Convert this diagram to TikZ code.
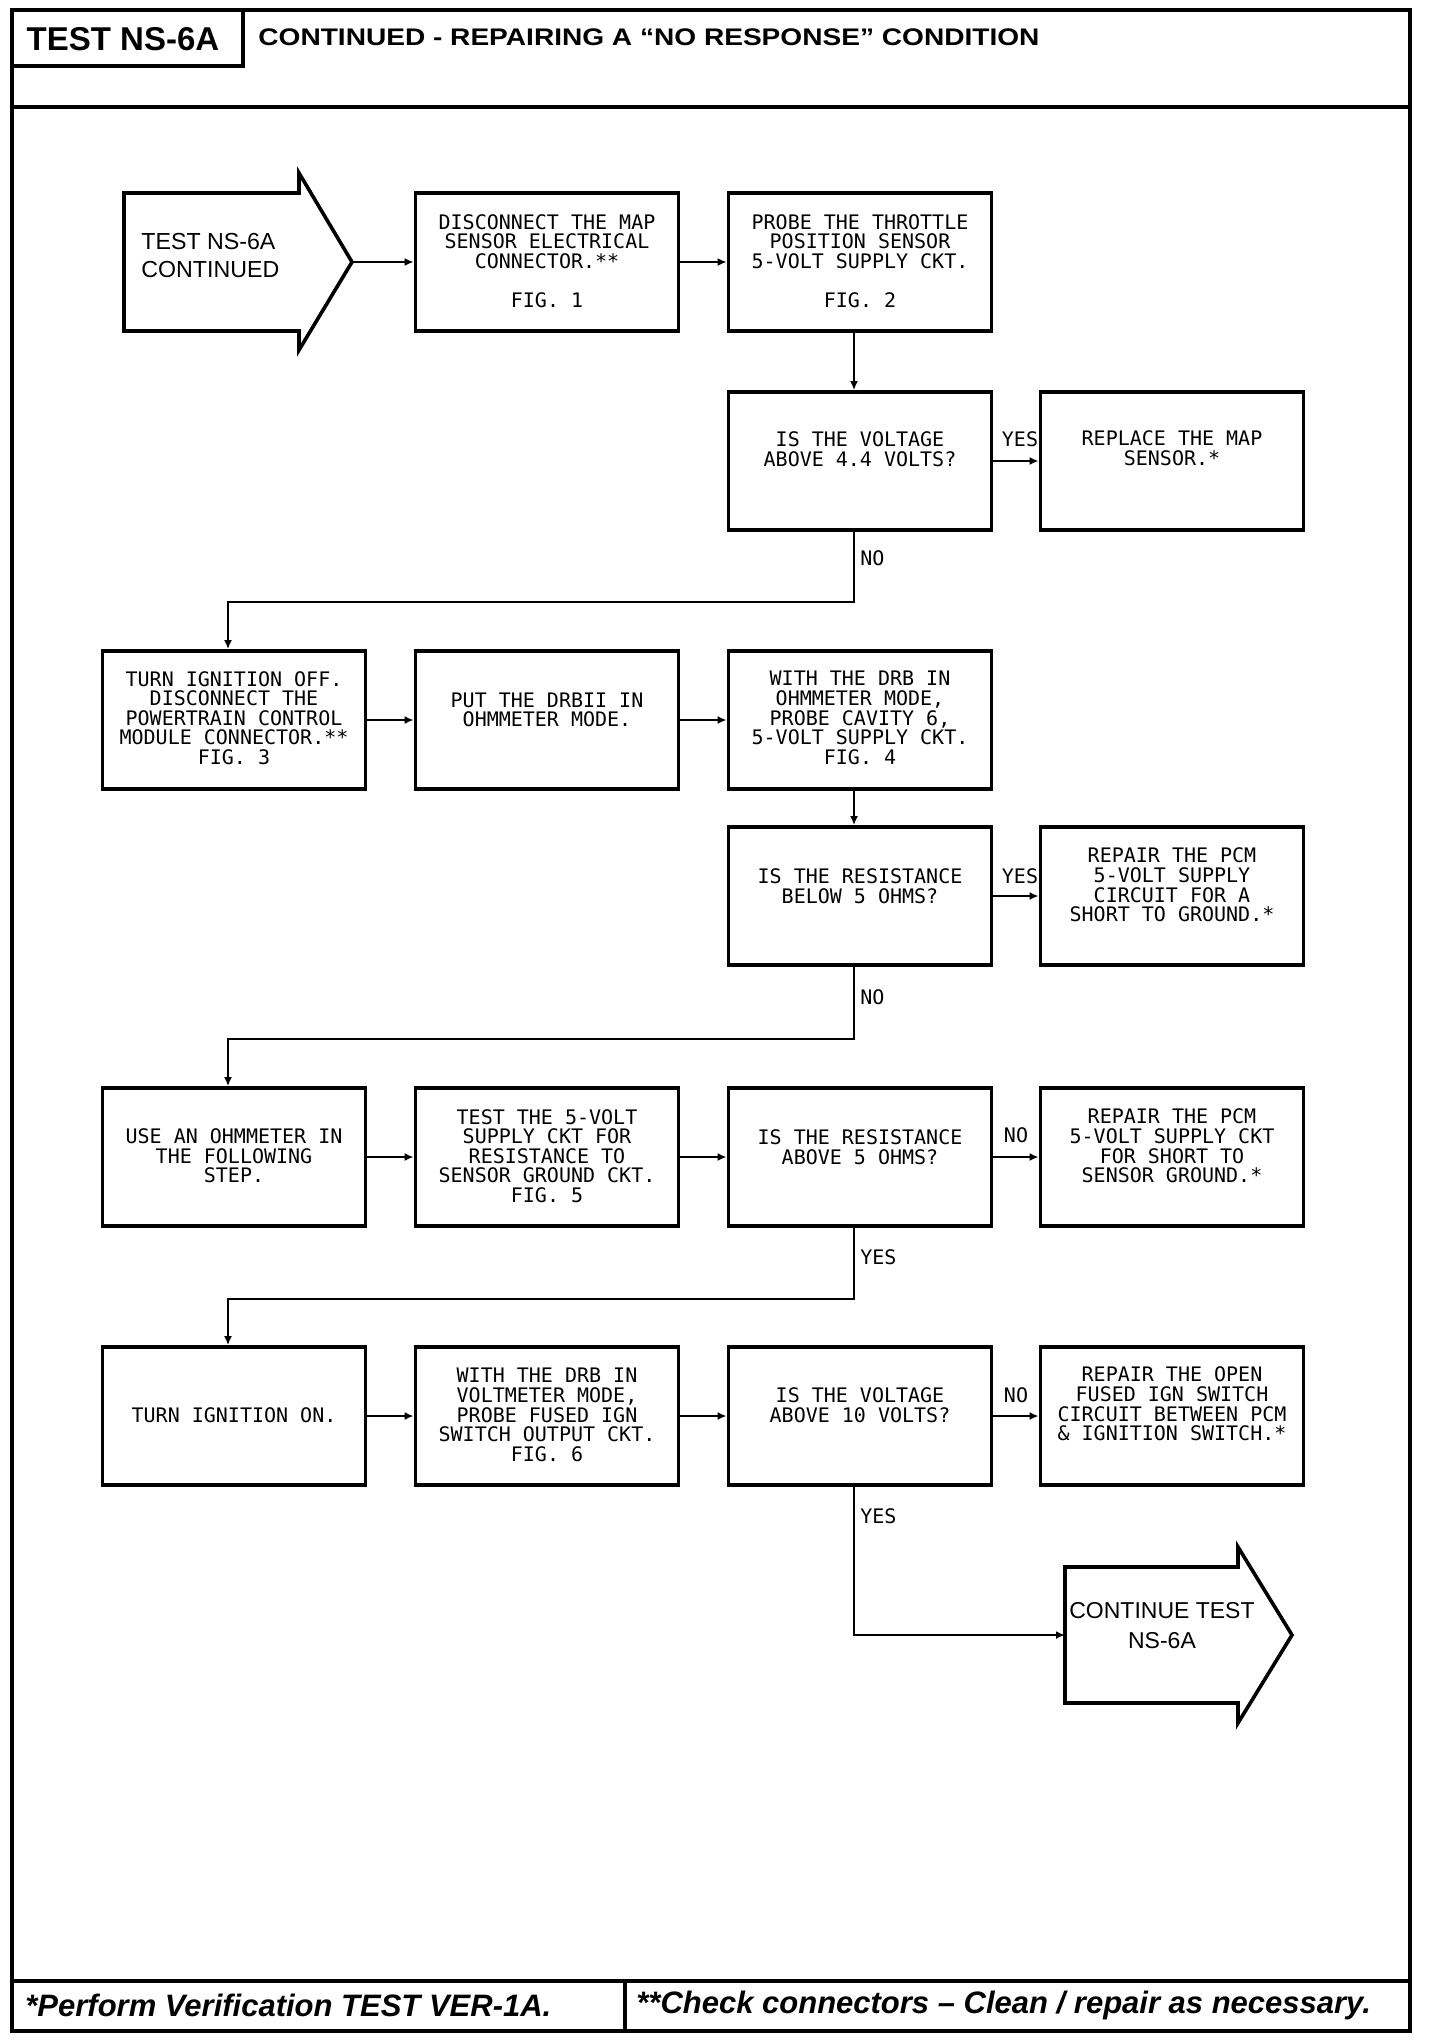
\documentclass[tikz,border=0pt]{standalone}
\usepackage{fontspec}
\setmainfont{Liberation Sans}
\newfontfamily\plot{DejaVu Sans Mono}
\newfontfamily\widebold[FakeStretch=1.17]{Liberation Sans Bold}
\usetikzlibrary{arrows.meta}
\begin{document}
\begin{tikzpicture}[x=0.5pt,y=-0.5pt,
  box/.style={draw, line width=1.9pt, minimum width=131.5pt, minimum height=69pt, inner sep=0},
  txt/.style={font=\plot\fontsize{10}{9.8}\selectfont, align=center, inner sep=0},
  conn/.style={line width=1.1pt, -{Latex[length=4.5pt,width=4pt]}},
  lbl/.style={font=\plot\fontsize{10}{12}\selectfont, inner sep=0},
  frame/.style={line width=1.6pt},
  bigarrow/.style={draw, line width=1.8pt, line join=miter}]
\useasboundingbox (0,0) rectangle (1440,2042);
% frame
\draw[frame] (12,10) rectangle (1410,2031);
\draw[frame] (12,107) -- (1410,107);
\draw[frame] (243,10) -- (243,66) -- (12,66);
\draw[frame] (12,1981) -- (1410,1981);
\draw[frame] (625,1981) -- (625,2031);
\node[font=\bfseries\fontsize{16.5}{18}\selectfont, inner sep=0] (hd) at (123,39) {TEST NS-6A};
\node[font=\widebold\fontsize{12}{14}\selectfont, inner sep=0, anchor=west] (title) at (258,37) {CONTINUED - REPAIRING A “NO RESPONSE” CONDITION};
\node[font=\bfseries\itshape\fontsize{15.5}{17}\selectfont, inner sep=0, anchor=west] (f1) at (25,2005) {*Perform Verification TEST VER-1A.};
\node[font=\bfseries\itshape\fontsize{15.5}{17}\selectfont, inner sep=0, anchor=west] (f2) at (636,2005) {**Check connectors – Clean / repair as necessary.};
% start arrow
\draw[bigarrow] (124,193) -- (299,193) -- (299,173) -- (352,262) -- (299,350) -- (299,331) -- (124,331) -- cycle;
\coordinate (s1tip) at (352,262);
\node[font=\fontsize{11.6}{14}\selectfont, align=left, inner sep=0, anchor=west] (s1t) at (141,256) {TEST NS-6A\\CONTINUED};
% end arrow
\draw[bigarrow] (1065,1567) -- (1238,1567) -- (1238,1547) -- (1292,1635) -- (1238,1723) -- (1238,1703) -- (1065,1703) -- cycle;
\coordinate (e2) at (1065,1635);
\node[font=\fontsize{11.5}{15}\selectfont, align=center, inner sep=0] (e2t) at (1162,1626) {CONTINUE TEST\\NS-6A};
% boxes
\node[box] (b1) at (547,262) {};
\node[box] (b2) at (860,262) {};
\node[box] (b3) at (860,461) {};
\node[box] (b4) at (1172,461) {};
\node[box] (b5) at (234,720) {};
\node[box] (b6) at (547,720) {};
\node[box] (b7) at (860,720) {};
\node[box] (b8) at (860,896) {};
\node[box] (b9) at (1172,896) {};
\node[box] (b10) at (234,1157) {};
\node[box] (b11) at (547,1157) {};
\node[box] (b12) at (860,1157) {};
\node[box] (b13) at (1172,1157) {};
\node[box] (b14) at (234,1416) {};
\node[box] (b15) at (547,1416) {};
\node[box] (b16) at (860,1416) {};
\node[box] (b17) at (1172,1416) {};
% texts
\node[txt] (t1) at (547,261) {DISCONNECT THE MAP\\SENSOR ELECTRICAL\\CONNECTOR.**\\[9.8pt]FIG. 1};
\node[txt] (t2) at (860,261) {PROBE THE THROTTLE\\POSITION SENSOR\\5-VOLT SUPPLY CKT.\\[9.8pt]FIG. 2};
\node[txt] (t3) at (860,449) {IS THE VOLTAGE\\ABOVE 4.4 VOLTS?};
\node[txt] (t4) at (1172,448) {REPLACE THE MAP\\SENSOR.*};
\node[txt] (t5) at (234,718) {TURN IGNITION OFF.\\DISCONNECT THE\\POWERTRAIN CONTROL\\MODULE CONNECTOR.**\\FIG. 3};
\node[txt] (t6) at (547,710) {PUT THE DRBII IN\\OHMMETER MODE.};
\node[txt] (t7) at (860,718) {WITH THE DRB IN\\OHMMETER MODE,\\PROBE CAVITY 6,\\5-VOLT SUPPLY CKT.\\FIG. 4};
\node[txt] (t8) at (860,886) {IS THE RESISTANCE\\BELOW 5 OHMS?};
\node[txt] (t9) at (1172,885) {REPAIR THE PCM\\5-VOLT SUPPLY\\CIRCUIT FOR A\\SHORT TO GROUND.*};
\node[txt] (t10) at (234,1156) {USE AN OHMMETER IN\\THE FOLLOWING\\STEP.};
\node[txt] (t11) at (547,1156) {TEST THE 5-VOLT\\SUPPLY CKT FOR\\RESISTANCE TO\\SENSOR GROUND CKT.\\FIG. 5};
\node[txt] (t12) at (860,1147) {IS THE RESISTANCE\\ABOVE 5 OHMS?};
\node[txt] (t13) at (1172,1146) {REPAIR THE PCM\\5-VOLT SUPPLY CKT\\FOR SHORT TO\\SENSOR GROUND.*};
\node[txt] (t14) at (234,1415) {TURN IGNITION ON.};
\node[txt] (t15) at (547,1415) {WITH THE DRB IN\\VOLTMETER MODE,\\PROBE FUSED IGN\\SWITCH OUTPUT CKT.\\FIG. 6};
\node[txt] (t16) at (860,1405) {IS THE VOLTAGE\\ABOVE 10 VOLTS?};
\node[txt] (t17) at (1172,1404) {REPAIR THE OPEN\\FUSED IGN SWITCH\\CIRCUIT BETWEEN PCM\\\& IGNITION SWITCH.*};
% connectors
\draw[conn] (s1tip) -- (b1.west);
\draw[conn] (b1.east) -- (b2.west);
\draw[conn] ([xshift=-3pt]b2.south) -- ([xshift=-3pt]b3.north);
\draw[conn] (b3.east) -- (b4.west);
\draw[conn] ([xshift=-3pt]b3.south) -- ++(0,70) -| ([xshift=-3pt]b5.north);
\draw[conn] (b5.east) -- (b6.west);
\draw[conn] (b6.east) -- (b7.west);
\draw[conn] ([xshift=-3pt]b7.south) -- ([xshift=-3pt]b8.north);
\draw[conn] (b8.east) -- (b9.west);
\draw[conn] ([xshift=-3pt]b8.south) -- ++(0,72) -| ([xshift=-3pt]b10.north);
\draw[conn] (b10.east) -- (b11.west);
\draw[conn] (b11.east) -- (b12.west);
\draw[conn] (b12.east) -- (b13.west);
\draw[conn] ([xshift=-3pt]b12.south) -- ++(0,71) -| ([xshift=-3pt]b14.north);
\draw[conn] (b14.east) -- (b15.west);
\draw[conn] (b15.east) -- (b16.west);
\draw[conn] (b16.east) -- (b17.west);
\draw[conn] ([xshift=-3pt]b16.south) |- (e2);
% labels
\node[lbl] (l1) at (1020,439) {YES};
\node[lbl, anchor=west] (l2) at (860,558) {NO};
\node[lbl] (l3) at (1020,876) {YES};
\node[lbl, anchor=west] (l4) at (860,997) {NO};
\node[lbl] (l5) at (1016,1135) {NO};
\node[lbl, anchor=west] (l6) at (860,1257) {YES};
\node[lbl] (l7) at (1016,1395) {NO};
\node[lbl, anchor=west] (l8) at (860,1516) {YES};
\end{tikzpicture}
\end{document}
